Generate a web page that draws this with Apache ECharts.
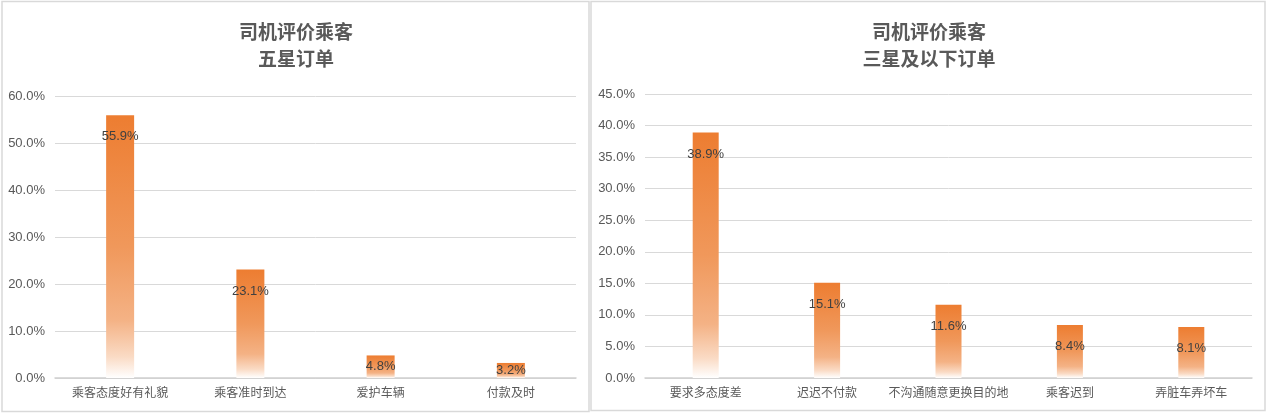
<!DOCTYPE html>
<html>
<head>
<meta charset="utf-8">
<script src="https://cdn.jsdelivr.net/npm/echarts@6/dist/echarts.min.js"></script>
<style>
html,body{margin:0;padding:0;background:#fff;}
#c{width:1269px;height:415px;}
</style>
</head>
<body>
<div id="c"></div>
<script>
// ---- data ----
const leftTitle = '司机评价乘客\n五星订单';
const leftCategories = ['乘客态度好有礼貌', '乘客准时到达', '爱护车辆', '付款及时'];
const leftValues = [55.9, 23.1, 4.8, 3.2];
const leftMax = 60;
const leftInterval = 10;

const rightTitle = '司机评价乘客\n三星及以下订单';
const rightCategories = ['要求多态度差', '迟迟不付款', '不沟通随意更换目的地', '乘客迟到', '弄脏车弄坏车'];
const rightValues = [38.9, 15.1, 11.6, 8.4, 8.1];
const rightMax = 45;
const rightInterval = 5;

// ---- styles ----
const FONT = "'Liberation Sans Narrow', 'Liberation Sans', 'Noto Sans CJK SC', sans-serif";
const CJK = "'Noto Sans CJK SC', 'Liberation Sans', sans-serif";
const textColor = '#595959';
const gridColor = '#d9d9d9';

const barColor = {
  type: 'linear', x: 0, y: 0, x2: 0, y2: 1,
  colorStops: [
    { offset: 0, color: '#ED7D31' },
    { offset: 0.5, color: '#F0985B' },
    { offset: 0.78, color: '#F4B285' },
    { offset: 0.92, color: '#FADBC5' },
    { offset: 1, color: '#FFFFFF' }
  ]
};

function buildData(values, max) {
  return values.map(v => {
    const small = v / max < 0.1;
    return {
      value: v,
      label: small ? { position: 'inside' } : { position: 'insideTop', distance: 15 }
    };
  });
}

const pctFmt = v => v.toFixed(1) + '%';

function yAxis(idx, max, interval) {
  return {
    type: 'value', gridIndex: idx, min: 0, max: max, interval: interval,
    axisLine: { show: false }, axisTick: { show: false },
    axisLabel: { formatter: pctFmt, color: textColor, fontSize: 13, fontFamily: FONT, margin: 10 },
    splitLine: { lineStyle: { color: gridColor, width: 1 } }
  };
}
function xAxis(idx, cats) {
  return {
    type: 'category', gridIndex: idx, data: cats,
    axisLine: { lineStyle: { color: '#d0d0d0', width: 1.5 } },
    axisTick: { show: false },
    axisLabel: { color: textColor, fontSize: 12, fontFamily: CJK, margin: 8, interval: 0 }
  };
}
function barSeries(idx, values, max, width) {
  return {
    type: 'bar', xAxisIndex: idx, yAxisIndex: idx,
    data: buildData(values, max),
    barWidth: width,
    itemStyle: { color: barColor },
    label: {
      show: true, formatter: p => pctFmt(p.value),
      color: '#404040', fontSize: 13, fontFamily: FONT
    }
  };
}

const chart = echarts.init(document.getElementById('c'));
chart.setOption({
  animation: false,
  backgroundColor: '#ffffff',
  graphic: [
    { type: 'rect', shape: { x: 2, y: 1.5, width: 587, height: 410 }, style: { fill: 'none', stroke: '#d9d9d9', lineWidth: 1.5 }, z: -1 },
    { type: 'rect', shape: { x: 591, y: 1.5, width: 674, height: 409 }, style: { fill: 'none', stroke: '#d9d9d9', lineWidth: 1.5 }, z: -1 }
  ],
  title: [
    { text: leftTitle, left: 296, top: 18, textAlign: 'center', padding: 0,
      textStyle: { color: textColor, fontSize: 19, fontWeight: 'bold', fontFamily: CJK, lineHeight: 27 } },
    { text: rightTitle, left: 929, top: 18, textAlign: 'center', padding: 0,
      textStyle: { color: textColor, fontSize: 19, fontWeight: 'bold', fontFamily: CJK, lineHeight: 27 } }
  ],
  grid: [
    { left: 55, right: 693, top: 96, bottom: 37 },
    { left: 645, right: 17, top: 94, bottom: 37 }
  ],
  xAxis: [xAxis(0, leftCategories), xAxis(1, rightCategories)],
  yAxis: [yAxis(0, leftMax, leftInterval), yAxis(1, rightMax, rightInterval)],
  series: [barSeries(0, leftValues, leftMax, 28), barSeries(1, rightValues, rightMax, 26)]
});
</script>
</body>
</html>
